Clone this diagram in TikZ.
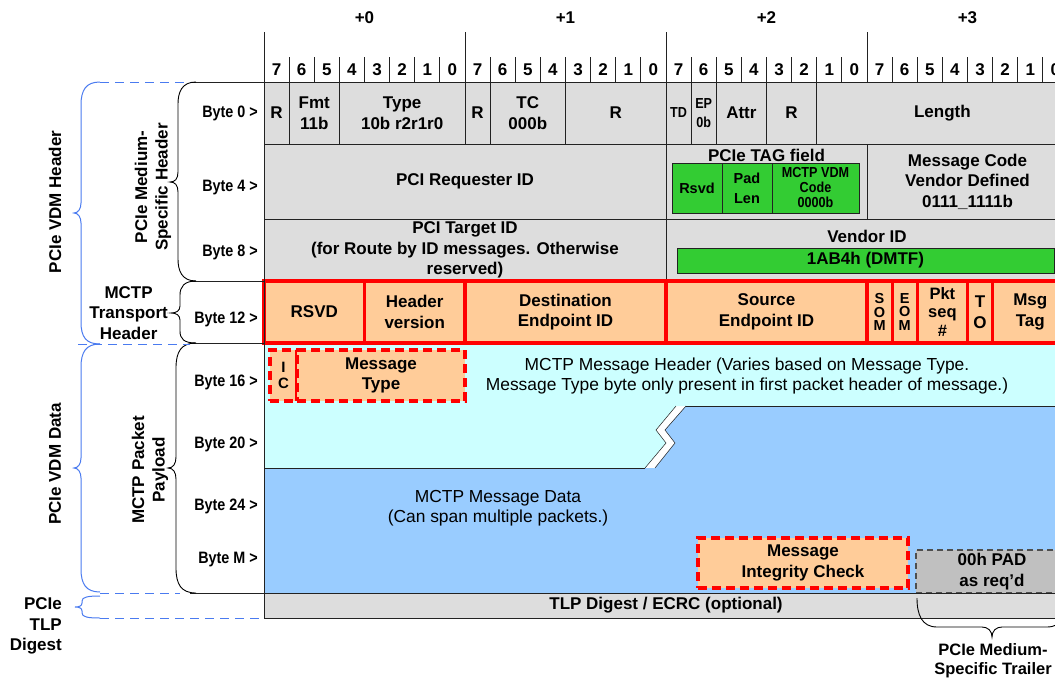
\documentclass[tikz,border=0pt]{standalone}
\usepackage{fontspec}
\setmainfont{Liberation Sans}
\newfontfamily\narrowfont[FakeStretch=0.87]{Liberation Sans}

\definecolor{hdrgray}{HTML}{DDDDDD}
\definecolor{taggreen}{HTML}{33CC33}
\definecolor{mctporange}{HTML}{FFCC99}
\definecolor{mctpred}{HTML}{FF0000}
\definecolor{msgcyan}{HTML}{CCFFFF}
\definecolor{datablue}{HTML}{99CCFF}
\definecolor{padgray}{HTML}{C0C0C0}
\definecolor{braceblue}{HTML}{4A7BF0}
\definecolor{gridline}{HTML}{222222}

\tikzset{
  txt/.style={font=\fontsize{17}{20.5}\selectfont\bfseries,align=center,inner sep=0pt},
  smalltxt/.style={font=\fontsize{14.5}{20}\selectfont\bfseries},
  narrowtxt/.style={font=\fontsize{14.5}{15}\selectfont\narrowfont\bfseries},
  plaintxt/.style={font=\fontsize{17.4}{20.5}\selectfont,align=center,inner sep=0pt},
  fld/.style={txt,draw=gridline,line width=0.9pt,fill=hdrgray,
    anchor=north west,outer sep=0pt},
  grn/.style={fld,fill=taggreen},
  tport/.style={fld,draw=mctpred,line width=3.2pt,fill=mctporange},
  msgbox/.style={tport,dash pattern=on 9pt off 5pt},
  padbox/.style={fld,fill=padgray,draw=gridline!80,line width=1.1pt,
    dash pattern=on 6pt off 4pt},
  bytelbl/.style={font=\fontsize{16.5}{18}\selectfont\narrowfont\bfseries,
    anchor=east,inner sep=0pt},
  gridln/.style={draw=gridline,line width=0.9pt},
  blkbrace/.style={draw=black,line width=0.9pt},
  bluebrace/.style={draw=braceblue,line width=1pt},
  bluedash/.style={draw=braceblue,line width=1pt,dash pattern=on 9pt off 6pt},
}

\begin{document}
\begin{tikzpicture}[x=1pt,y=-1pt]
\useasboundingbox (0,0) rectangle (1055,678);
\clip (0,0) rectangle (1055,678);
\fill[white] (0,0) rectangle (1055,678);

\foreach \k in {0,...,3} {
  \node[txt] (byte\k) at ({364.5+201*\k},18) {+\k};
  \draw[gridln] ({264+201*\k},32) -- ({264+201*\k},82);
}
\foreach \b in {0,...,31} {
  \pgfmathtruncatemacro{\bitval}{7-mod(\b,8)}
  \node[txt] (bit\b) at ({264+25.125*(\b+0.5)},70) {\bitval};
}
\foreach \b in {1,...,31}
  \draw[gridln] ({264+25.125*\b},57) -- ({264+25.125*\b},82);

\node[fld,minimum width=25.125pt,minimum height=62pt] (rsv0) at (264,82) {R};
\node[fld,minimum width=50.25pt,minimum height=62pt] (fmt) at (289.125,82) {Fmt\\11b};
\node[fld,minimum width=125.625pt,minimum height=62pt] (type) at (339.375,82) {Type\\10b r2r1r0};
\node[fld,minimum width=25.125pt,minimum height=62pt] (rsv1) at (465,82) {R};
\node[fld,minimum width=75.375pt,minimum height=62pt] (tc) at (490.125,82) {TC\\000b};
\node[fld,minimum width=100.5pt,minimum height=62pt] (rsv2) at (565.5,82) {R};
\node[fld,narrowtxt,minimum width=25.125pt,minimum height=62pt] (td) at (666,82) {TD};
\node[fld,narrowtxt,minimum width=25.125pt,minimum height=62pt,
  font=\fontsize{14.5}{19}\selectfont\narrowfont\bfseries] (ep) at (691.125,82) {EP\\0b};
\node[fld,minimum width=50.25pt,minimum height=62pt] (attr) at (716.25,82) {Attr};
\node[fld,minimum width=50.25pt,minimum height=62pt] (rsv3) at (766.5,82) {R};
\node[fld,minimum width=251.25pt,minimum height=62pt] (length) at (816.75,82) {Length};

\node[fld,minimum width=402pt,minimum height=75pt] (reqid) at (264,144) {PCI Requester ID};
\node[fld,minimum width=201pt,minimum height=75pt] (tagfld) at (666,144) {};
\node[txt] (taglbl) at (766.5,155) {PCIe TAG field};
\node[grn,smalltxt,minimum width=50pt,minimum height=50pt] (tagrsvd) at (672,163) {Rsvd};
\node[grn,smalltxt,minimum width=50pt,minimum height=50pt] (padlen) at (722,163) {Pad\\Len};
\node[grn,narrowtxt,minimum width=87pt,minimum height=50pt] (vdmcode) at (772,163) {MCTP VDM\\Code\\0000b};
\node[fld,minimum width=201pt,minimum height=75pt] (msgcode) at (867,144)
  {Message Code\\Vendor Defined\\0111\_1111b};

\node[fld,minimum width=402pt,minimum height=62pt] (tgtid) at (264,219)
  {PCI Target ID\\(for Route by ID messages. Otherwise\\reserved)};
\node[fld,minimum width=402pt,minimum height=62pt] (vendor) at (666,219) {};
\node[txt] (vendorlbl) at (867,236) {Vendor ID};
\node[grn,minimum width=377pt,minimum height=25pt] (dmtf) at (677,248) {1AB4h (DMTF)};

\fill[msgcyan] (264,343) -- (1068,343) -- (1068,406) -- (676,406) -- (656,430)
  -- (666,443) -- (645,468) -- (264,468) -- cycle;
\fill[datablue] (264,468) -- (655,468) -- (675,443) -- (665,430) -- (686,406)
  -- (1068,406) -- (1068,593) -- (264,593) -- cycle;
\draw[gridln] (264,468) -- (645,468);
\draw[gridln] (686,406) -- (1068,406);
\draw[gridln,line width=0.5pt] (645,468) -- (666,443) -- (656,430) -- (676,406);
\draw[gridln,line width=0.5pt] (655,468) -- (675,443) -- (665,430) -- (686,406);

\node[tport,minimum width=100.5pt,minimum height=62pt] (rsvd) at (264,281) {RSVD};
\node[tport,minimum width=100.5pt,minimum height=62pt] (hdrver) at (364.5,281) {Header\\version};
\node[tport,minimum width=201pt,minimum height=62pt] (dstid) at (465,281) {Destination\\Endpoint ID};
\node[tport,minimum width=201pt,minimum height=62pt] (srcid) at (666,281) {Source\\Endpoint ID};
\node[tport,minimum width=25.125pt,minimum height=62pt,
  font=\fontsize{14.5}{13.5}\selectfont\bfseries] (som) at (867,281) {S\\O\\M};
\node[tport,minimum width=25.125pt,minimum height=62pt,
  font=\fontsize{14.5}{13.5}\selectfont\bfseries] (eom) at (892.125,281) {E\\O\\M};
\node[tport,minimum width=50.25pt,minimum height=62pt,
  font=\fontsize{16.5}{18.5}\selectfont\bfseries] (pktseq) at (917.25,281) {Pkt\\seq\\\#};
\node[tport,minimum width=25.125pt,minimum height=62pt] (to) at (967.5,281) {T\\O};
\node[tport,minimum width=75.375pt,minimum height=62pt] (msgtag) at (992.625,281) {Msg\\Tag};

\node[msgbox,minimum width=27pt,minimum height=51pt,
  font=\fontsize{15}{16}\selectfont\bfseries] (ic) at (270,350) {I\\C};
\node[msgbox,minimum width=168pt,minimum height=51pt] (msgtype) at (297,350) {Message\\Type};
\node[plaintxt] (hdrnote) at (747,376)
  {MCTP Message Header (Varies based on Message Type.\\Message Type byte only present in first packet header of message.)};
\node[plaintxt] (datanote) at (498,508) {MCTP Message Data\\(Can span multiple packets.)};
\node[msgbox,minimum width=210pt,minimum height=50pt] (mic) at (698,538) {Message\\Integrity Check};
\node[padbox,minimum width=152pt,minimum height=43pt] (pad) at (916,550) {00h PAD\\as req’d};
\node[fld,minimum width=804pt,minimum height=25pt] (digest) at (264,593) {TLP Digest / ECRC (optional)};

\draw[gridln] (264,32) -- (264,618);
\draw[gridln] (190,82) -- (264,82);
\draw[gridln] (190,281) -- (264,281);
\draw[gridln] (190,343) -- (264,343);
\draw[gridln] (190,593) -- (264,593);

\node[bytelbl] (b0) at (258,113) {Byte 0 >};
\node[bytelbl] (b4) at (258,188) {Byte 4 >};
\node[bytelbl] (b8) at (258,252) {Byte 8 >};
\node[bytelbl] (b12) at (258,319) {Byte 12 >};
\node[bytelbl] (b16) at (258,382) {Byte 16 >};
\node[bytelbl] (b20) at (258,444) {Byte 20 >};
\node[bytelbl] (b24) at (258,506) {Byte 24 >};
\node[bytelbl] (bm) at (258,560) {Byte M >};

\draw[blkbrace] (196,82) .. controls (182,82) and (178,92) .. (178,104) -- (178,172)
  .. controls (178,179) and (175,182) .. (170,182) .. controls (175,182) and (178,185) .. (178,192)
  -- (178,259) .. controls (178,271) and (182,281) .. (196,281);
\draw[blkbrace] (196,281) .. controls (184,281) and (180,287) .. (180,295) -- (180,306)
  .. controls (180,311) and (176,313) .. (171,313) .. controls (176,313) and (180,315) .. (180,320)
  -- (180,331) .. controls (180,339) and (184,343) .. (196,343);
\draw[blkbrace] (196,343) .. controls (181,343) and (176,352) .. (176,368) -- (176,457)
  .. controls (176,464) and (173,468) .. (168,468) .. controls (173,468) and (176,472) .. (176,479)
  -- (176,568) .. controls (176,584) and (181,593) .. (196,593);

\draw[bluebrace] (100,82) .. controls (86,82) and (81,90) .. (81,105) -- (81,203)
  .. controls (81,209) and (78,213) .. (74,213) .. controls (78,213) and (81,217) .. (81,223)
  -- (81,322) .. controls (81,337) and (86,344) .. (100,344);
\draw[bluebrace] (100,344) .. controls (86,344) and (81,352) .. (81,367) -- (81,458)
  .. controls (81,464) and (78,468) .. (74,468) .. controls (78,468) and (81,472) .. (81,478)
  -- (81,569) .. controls (81,584) and (86,592) .. (100,592);
\draw[bluebrace] (100,596) .. controls (88,596) and (82,597) .. (82,601) -- (82,603)
  .. controls (82,606) and (79,607) .. (75,607) .. controls (79,607) and (82,608) .. (82,611)
  -- (82,613) .. controls (82,617) and (88,618) .. (100,618);
\draw[bluedash] (100,82) -- (190,82);
\draw[bluedash] (78,344) -- (190,344);
\draw[bluedash] (100,593) -- (180,593);
\draw[bluedash] (100,618) -- (264,618);

\node[txt,rotate=90] (medhdr) at (153,187) {PCIe Medium-\\Specific Header};
\node[txt,anchor=east] (tporthdr) at (168,313) {MCTP\\Transport\\Header};
\node[txt,rotate=90] (payload) at (150,470) {MCTP Packet\\Payload};
\node[txt,rotate=90] (vdmhdr) at (55,202) {PCIe VDM Header};
\node[txt,rotate=90] (vdmdata) at (55,464) {PCIe VDM Data};
\node[txt,anchor=east,align=right] (tlpdig) at (62,626) {PCIe\\TLP\\Digest};

\draw[blkbrace] (917,598) .. controls (917,615) and (922,627) .. (937,627) -- (982,627)
  .. controls (988,627) and (992,631) .. (992,637) .. controls (992,631) and (996,627) .. (1002,627)
  -- (1047,627) .. controls (1062,627) and (1067,615) .. (1067,598);
\node[txt,font=\fontsize{16.5}{19}\selectfont\bfseries] (trailer) at (993,661)
  {PCIe Medium-\\Specific Trailer};
\end{tikzpicture}
\end{document}
